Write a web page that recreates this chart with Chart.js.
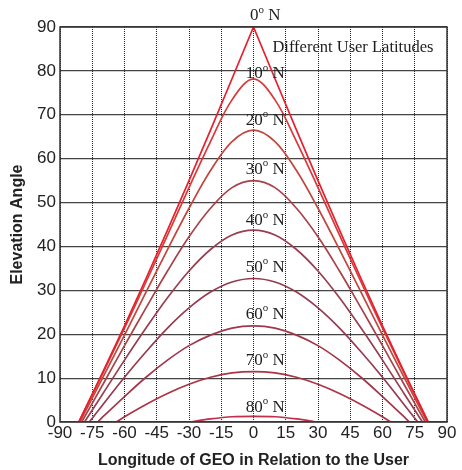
<!DOCTYPE html>
<html>
<head>
<meta charset="utf-8">
<script src="https://cdn.jsdelivr.net/npm/chart.js@4/dist/chart.umd.min.js"></script>
<style>
  body { margin: 0; background: #fff; }
  #wrap { width: 462px; height: 470px; }
</style>
</head>
<body>
<div id="wrap"><canvas id="elev"></canvas></div>
<script>
// longitude offsets (deg) where elevation was read, one side of the curve
var lonSteps = [0, 10, 20, 30, 40, 50, 60, 70, 80];
var latitudes = [0, 10, 20, 30, 40, 50, 60, 70, 80];

// elevation angle at each lonStep
var el0  = [90.0, 78.2, 66.5, 55.0, 43.7, 32.7, 21.9, 11.5, 1.3];
var el10 = [78.2, 73.4, 63.9, 53.4, 42.6, 31.9, 21.4, 11.2, 1.2];
var el20 = [66.5, 63.9, 57.3, 48.7, 39.3, 29.6, 19.8, 10.2, 0.7];
var el30 = [55.0, 53.4, 48.7, 42.2, 34.4, 26.0, 17.4, 8.6];
var el40 = [43.7, 42.6, 39.3, 34.4, 28.3, 21.4, 14.1, 6.5];
var el50 = [32.7, 31.9, 29.6, 26.0, 21.4, 16.0, 10.2, 4.0];
var el60 = [21.9, 21.4, 19.8, 17.4, 14.1, 10.2, 5.8, 1.2];
var el70 = [11.5, 11.2, 10.2, 8.6, 6.5, 4.0, 1.2];
var el80 = [1.3, 1.2, 0.7];
// longitude where each curve reaches 0 elevation
var horizon = [81.3, 81.2, 80.7, 79.9, 78.6, 76.4, 72.4, 63.8, 29.4];

var xTicks = [-90, -75, -60, -45, -30, -15, 0, 15, 30, 45, 60, 75, 90];
var yTicks = [0, 10, 20, 30, 40, 50, 60, 70, 80, 90];

// where the latitude labels sit (data units)
var labelLon = 5.5;
var labelElev = [92.5, 79.3, 68.8, 57.6, 45.8, 35.3, 24.6, 13.9, 3.4];

var curves = [el0, el10, el20, el30, el40, el50, el60, el70, el80];
var colors = ["#e8202e", "#d83a3a", "#c0463e", "#a84248", "#983e4e",
	"#963a50", "#a0384a", "#ac3446", "#c0304c"];

// both sides of the curve are the same, so mirror the read side
function buildPoints(vals, edge) {
	var pts = [{ x: -edge, y: 0 }];
	for (var i = vals.length - 1; i > 0; i--) pts.push({ x: -lonSteps[i], y: vals[i] });
	for (var j = 0; j < vals.length; j++) pts.push({ x: lonSteps[j], y: vals[j] });
	pts.push({ x: edge, y: 0 });
	return pts;
}

var datasets = curves.map(function (vals, k) {
	return {
		label: latitudes[k] + " N",
		data: buildPoints(vals, horizon[k]),
		borderColor: colors[k],
		borderWidth: 1.7,
		pointRadius: 0,
		tension: k === 0 ? 0 : 0.35,
		fill: false
	};
});

var serif = "'Liberation Serif', 'Times New Roman', serif";

function drawLatLabel(ctx, cx, cy, num) {
	var big = "17px " + serif, small = "11px " + serif;
	ctx.font = big;
	var w1 = ctx.measureText(String(num)).width;
	var w3 = ctx.measureText(" N").width;
	ctx.font = small;
	var w2 = ctx.measureText("o").width;
	var x = cx - (w1 + w2 + w3) / 2;
	ctx.textAlign = "left";
	ctx.textBaseline = "middle";
	ctx.font = big;
	ctx.fillText(String(num), x, cy);
	ctx.font = small;
	ctx.fillText("o", x + w1, cy - 6);
	ctx.font = big;
	ctx.fillText(" N", x + w1 + w2, cy);
}

var annotate = {
	id: "annotate",
	afterDatasetsDraw: function (chart) {
		var ctx = chart.ctx, a = chart.chartArea;
		var xs = chart.scales.x, ys = chart.scales.y;
		ctx.save();
		ctx.strokeStyle = "#333";
		ctx.lineWidth = 1.5;
		ctx.strokeRect(a.left, a.top, a.right - a.left, a.bottom - a.top);
		ctx.fillStyle = "#1e1e1e";
		for (var k = 0; k < latitudes.length; k++) {
			drawLatLabel(ctx, xs.getPixelForValue(labelLon), ys.getPixelForValue(labelElev[k]), latitudes[k]);
		}
		ctx.font = "16.5px " + serif;
		ctx.textAlign = "left";
		ctx.textBaseline = "middle";
		ctx.fillText("Different User Latitudes", xs.getPixelForValue(8.8), ys.getPixelForValue(85.2));
		ctx.restore();
	}
};

var tickFont = { family: "'Liberation Sans', Arial, sans-serif", size: 17 };
var titleFont = { family: "'Liberation Sans', Arial, sans-serif", size: 16, weight: "bold" };

new Chart(document.getElementById("elev"), {
	type: "line",
	data: { datasets: datasets },
	options: {
		responsive: true,
		maintainAspectRatio: false,
		animation: false,
		layout: { padding: { top: 27, right: 15, left: 0, bottom: 0 } },
		plugins: { legend: { display: false }, tooltip: { enabled: false } },
		scales: {
			x: {
				type: "linear",
				min: -90,
				max: 90,
				afterBuildTicks: function (s) { s.ticks = xTicks.map(function (v) { return { value: v }; }); },
				afterFit: function (s) { s.height = 48; },
				ticks: { color: "#222", font: tickFont, padding: 1, autoSkip: false, maxRotation: 0 },
				grid: { color: "#222", lineWidth: 1, drawTicks: false },
				border: { display: false, dash: [1, 1] },
				title: { display: true, text: "Longitude of GEO in Relation to the User", color: "#222", font: titleFont, padding: { top: 0, bottom: 0 } }
			},
			y: {
				min: 0,
				max: 90,
				afterBuildTicks: function (s) { s.ticks = yTicks.map(function (v) { return { value: v }; }); },
				afterFit: function (s) { s.width = 60; },
				ticks: { color: "#222", font: tickFont, padding: 4 },
				grid: { color: "#444", lineWidth: 1.2, drawTicks: false },
				border: { display: false },
				title: { display: true, text: "Elevation Angle", color: "#222", font: titleFont, padding: { top: 8, bottom: 0 } }
			}
		}
	},
	plugins: [annotate]
});
</script>
</body>
</html>
